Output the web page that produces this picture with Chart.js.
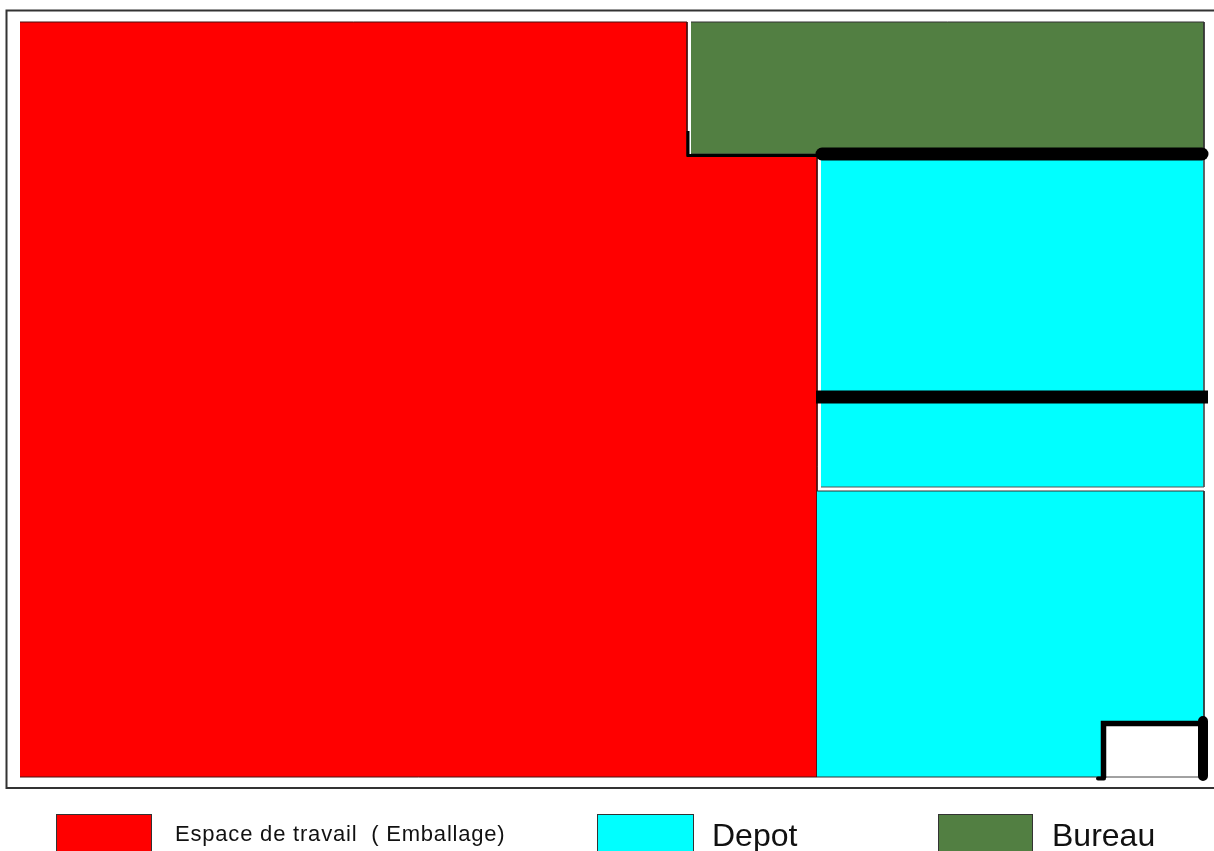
<!DOCTYPE html>
<html>
<head>
<meta charset="utf-8">
<title>Plan</title>
<script src="https://cdn.jsdelivr.net/npm/chart.js@4/dist/chart.umd.min.js"></script>
<style>
  html, body { margin: 0; padding: 0; background: #fff; overflow: hidden; }
  #wrap { position: relative; width: 1214px; height: 851px; overflow: hidden; }
  #plan { position: absolute; left: 0; top: 0; }
  .swatch { position: absolute; top: 814px; height: 40px; box-sizing: border-box; border: 1px solid #333; }
  .label { position: absolute; font-family: "Liberation Sans", Arial, sans-serif; color: #111; white-space: pre; line-height: 1; }
</style>
</head>
<body>
<div id="wrap">
  <canvas id="plan" width="1214" height="851"></canvas>
  <div id="legend"></div>
</div>
<script>
// legend
const roomNames = ["Espace de travail  ( Emballage)", "Depot", "Bureau"];
const roomColors = ["#ff0000", "#00ffff", "#527f42"];

// room outlines, in picture units
const workX = [20, 687, 687, 817, 817, 20];
const workY = [22, 22, 156, 156, 777, 777];
const bureauX = [691, 1204, 1204, 691];
const bureauY = [22, 22, 154, 154];
const depotUpperX = [821, 1204, 1204, 821];
const depotUpperY = [154, 154, 487, 487];
const depotLowerX = [817, 1204, 1204, 1103, 1103, 817];
const depotLowerY = [491, 491, 722, 722, 777, 777];
const doorX = [1103, 1203];
const doorY = [777, 777];

// frame, open on the right
const frameX = [1214, 6.5, 6.5, 1214];
const frameY = [10.5, 10.5, 788, 788];

// walls
const wallThinX = [688, 688, 820];
const wallThinY = [131, 155.5, 155.5];
const wallTopX = [822, 1202];
const wallTopY = [154, 154];
const wallMidX = [816, 1208];
const wallMidY = [397, 397];
const doorFrameX = [1103.5, 1103.5, 1203];
const doorFrameY = [778, 723.5, 723.5];
const doorFootX = [1098, 1104];
const doorFootY = [778.5, 778.5];
const doorPostX = [1203, 1203];
const doorPostY = [721, 776];

const toPoints = (xs, ys) => xs.map((x, i) => ({ x: x, y: ys[i] }));

const room = (xs, ys, color, border) => ({
  data: toPoints(xs, ys),
  showLine: true,
  fill: "shape",
  backgroundColor: color,
  borderColor: border,
  borderWidth: 1,
  pointRadius: 0,
  tension: 0
});

const wall = (xs, ys, width, cap, color) => ({
  data: toPoints(xs, ys),
  showLine: true,
  fill: false,
  borderColor: color || "#000",
  borderWidth: width,
  borderCapStyle: cap || "butt",
  borderJoinStyle: "miter",
  pointRadius: 0,
  tension: 0
});

// first dataset ends up on top
const datasets = [
  wall(doorPostX, doorPostY, 10, "round"),
  wall(doorFootX, doorFootY, 4, "round"),
  wall(doorFrameX, doorFrameY, 5.5),
  wall(wallMidX, wallMidY, 13),
  wall(wallTopX, wallTopY, 13, "round"),
  wall(wallThinX, wallThinY, 3),
  wall(doorX, doorY, 1, "butt", "#444"),
  room(depotLowerX, depotLowerY, roomColors[1], "#333"),
  room(depotUpperX, depotUpperY, roomColors[1], "#555"),
  room(bureauX, bureauY, roomColors[2], "#333"),
  room(workX, workY, roomColors[0], "#4a1010"),
  wall(frameX, frameY, 2, "butt", "#333")
];

new Chart(document.getElementById("plan"), {
  type: "scatter",
  data: { datasets: datasets },
  options: {
    responsive: false,
    animation: false,
    events: [],
    layout: { padding: 0 },
    scales: {
      x: { type: "linear", display: false, min: 0, max: 1214 },
      y: { type: "linear", display: false, min: 0, max: 851, reverse: true }
    },
    plugins: { legend: { display: false }, tooltip: { enabled: false } }
  }
});

// html legend, the labels have different sizes
const swatchLeft = [56, 597, 938];
const swatchWidth = [96, 97, 95];
const labelLeft = [175, 712, 1052];
const labelTop = [823, 819, 819];
const labelSize = [22, 32, 32];
const labelSpacing = [0.8, 0, 0];

const legend = document.getElementById("legend");
roomNames.forEach((name, i) => {
  const box = document.createElement("div");
  box.className = "swatch";
  box.style.left = swatchLeft[i] + "px";
  box.style.width = swatchWidth[i] + "px";
  box.style.backgroundColor = roomColors[i];
  legend.appendChild(box);

  const text = document.createElement("div");
  text.className = "label";
  text.style.left = labelLeft[i] + "px";
  text.style.top = labelTop[i] + "px";
  text.style.fontSize = labelSize[i] + "px";
  text.style.letterSpacing = labelSpacing[i] + "px";
  text.textContent = name;
  legend.appendChild(text);
});
</script>
</body>
</html>
